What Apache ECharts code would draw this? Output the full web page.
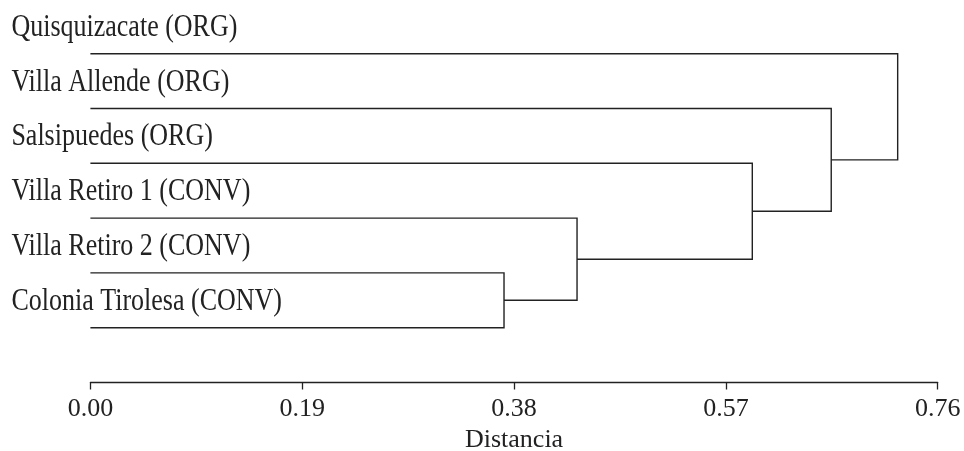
<!DOCTYPE html>
<html>
<head>
<meta charset="utf-8">
<script src="https://cdn.jsdelivr.net/npm/echarts@6/dist/echarts.min.js"></script>
<style>
html,body{margin:0;padding:0;background:#fff;}
#chart{width:964px;height:451px;}
</style>
</head>
<body>
<div id="chart"></div>
<script>
// Leaves (top to bottom)
var leaves = [
  'Quisquizacate (ORG)',
  'Villa Allende (ORG)',
  'Salsipuedes (ORG)',
  'Villa Retiro 1 (CONV)',
  'Villa Retiro 2 (CONV)',
  'Colonia Tirolesa (CONV)'
];
// Merges: index < 6 is a leaf, index >= 6 is cluster (6 + merge order)
var mergeA = [4, 3, 2, 1, 0];
var mergeB = [5, 6, 7, 8, 9];
var mergeHeight = [0.371, 0.4365, 0.5937, 0.6645, 0.7241];
// Axis ticks
var tickValues = [0.00, 0.19, 0.38, 0.57, 0.76];
var axisName = 'Distancia';

var N = leaves.length;
function nodeY(k) {
  if (k < N) return k;
  var m = k - N;
  return (nodeY(mergeA[m]) + nodeY(mergeB[m])) / 2;
}
function nodeH(k) {
  return k < N ? 0 : mergeHeight[k - N];
}

var mergeData = mergeHeight.map(function (h, i) { return [h, i]; });
var leafData = leaves.map(function (n, i) { return [0, i, n]; });

var FONT = '"Liberation Serif", "Times New Roman", serif';
var chart = echarts.init(document.getElementById('chart'), null, {renderer: 'canvas'});
chart.setOption({
  animation: false,
  backgroundColor: '#fff',
  grid: {left: 90.4, right: 26.3, top: 53.7, bottom: 68.5, containLabel: false, outerBoundsMode: 'none'},
  xAxis: {
    type: 'value',
    min: 0, max: 0.76, interval: 0.19,
    position: 'bottom',
    axisLine: {show: true, onZero: false, lineStyle: {color: '#222', width: 1.3}},
    axisTick: {show: true, length: 7, lineStyle: {color: '#222', width: 1.3}},
    splitLine: {show: false},
    axisLabel: {
      color: '#222', fontFamily: FONT, fontSize: 26, margin: 14,
      formatter: function (v) { return v.toFixed(2); }
    },
    name: axisName,
    nameLocation: 'middle',
    nameGap: 44,
    nameTextStyle: {color: '#222', fontFamily: FONT, fontSize: 26}
  },
  yAxis: {
    type: 'value', min: 0, max: 6, inverse: true,
    show: false
  },
  series: [
    {
      type: 'custom',
      data: mergeData,
      renderItem: function (params, api) {
        var m = params.dataIndex;
        var h = api.value(0);
        var a = mergeA[m], b = mergeB[m];
        var pA0 = api.coord([nodeH(a), nodeY(a)]);
        var pA1 = api.coord([h, nodeY(a)]);
        var pB1 = api.coord([h, nodeY(b)]);
        var pB0 = api.coord([nodeH(b), nodeY(b)]);
        var children = [{
          type: 'polyline',
          shape: {points: [pA0, pA1, pB1, pB0]},
          style: {stroke: '#222', lineWidth: 1.4, fill: null}
        }];
        return {type: 'group', children: children};
      }
    },
    {
      type: 'custom',
      data: leafData,
      renderItem: function (params, api) {
        var p = api.coord([api.value(0), api.value(1)]);
        return {
          type: 'text',
          x: p[0] - 79,
          y: p[1] - 26,
          scaleY: 1.18,
          style: {
            text: leaves[params.dataIndex],
            fill: '#222',
            font: '26px ' + FONT,
            textAlign: 'left',
            textVerticalAlign: 'middle'
          }
        };
      }
    }
  ]
});
</script>
</body>
</html>
